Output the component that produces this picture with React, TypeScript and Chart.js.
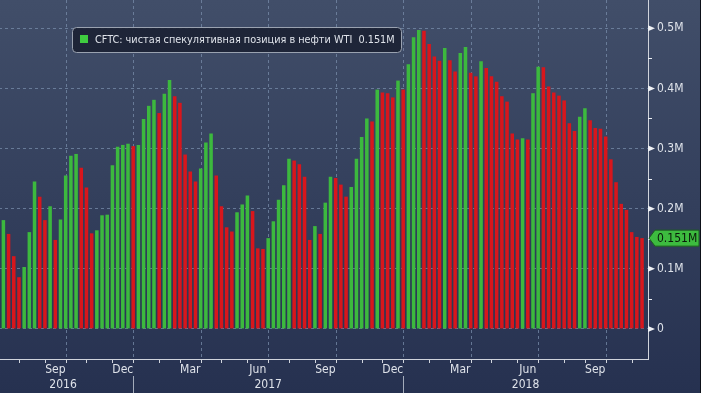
import React, { useEffect, useRef } from "react";
import { Chart, registerables } from "chart.js";

Chart.register(...registerables);

// Weekly CFTC reports (Tuesdays), first report date
const FIRST_REPORT = { year: 2016, month: 6, day: 12 };

// Net speculative position in WTI, thousands of contracts
const netPositionK = [
  181, 158, 121, 86, 103, 161, 245, 220, 181, 204,
  148, 182, 255, 288, 291, 268, 235, 159, 164, 189,
  190, 272, 303, 306, 308, 304, 306, 349, 371, 381,
  359, 391, 414, 387, 376, 290, 262, 245, 267, 310,
  325, 255, 204, 169, 162, 194, 207, 222, 196, 134,
  133, 151, 179, 215, 239, 283, 280, 274, 253, 148,
  171, 158, 210, 253, 251, 240, 220, 236, 283, 319,
  350, 345, 398, 393, 392, 385, 413, 398, 440, 485,
  497, 496, 474, 453, 446, 467, 447, 428, 459, 469,
  426, 420, 445, 434, 420, 411, 387, 378, 325, 315,
  317, 315, 392, 436, 435, 403, 393, 388, 380, 342,
  329, 353, 367, 347, 334, 333, 320, 282, 244, 208,
  198, 161, 153, 151,
];

// G = week-on-week rise, R = fall
const weekDirection =
  "GRRRGGGRRG" + "RGGGGRRRGG" + "GGGGGRGGGG" + "RGGRRRRRGG" + "GRRRRGGGRR" +
  "RGGGGGRRRR" + "GRGGRRRGGG" + "GRGRRRGRGG" + "GRRRRGRRGG" + "RRGRRRRRRR" +
  "GRGGRRRRRR" + "RGGRRRRRRR" + "RRRR";

const monthNames = ["Jan", "Feb", "Mar", "Apr", "May", "Jun", "Jul", "Aug", "Sep", "Oct", "Nov", "Dec"];
const yMajorTicksK = [0, 100, 200, 300, 400, 500];
const yMinorTicksK = [50, 150, 250, 350, 450];
const LEGEND_LABEL = "CFTC: чистая спекулятивная позиция в нефти WTI";

const GREEN = "#3cb93e";
const RED = "#d8161c";
const GRID = "rgba(120,140,170,0.75)";
const AXIS = "#d0d4dc";
const TEXT = "#dfe3ea";
const FONT_FAMILY = "'DejaVu Sans Condensed', 'Liberation Sans', sans-serif";

const weekDates = netPositionK.map(
  (_, i) => new Date(Date.UTC(FIRST_REPORT.year, FIRST_REPORT.month, FIRST_REPORT.day) + i * 7 * 86400000)
);

type MonthStart = { index: number; month: number; year: number };
const monthStarts: MonthStart[] = [];
for (let i = 1; i < weekDates.length; i++) {
  if (weekDates[i].getUTCMonth() !== weekDates[i - 1].getUTCMonth()) {
    monthStarts.push({ index: i, month: weekDates[i].getUTCMonth(), year: weekDates[i].getUTCFullYear() });
  }
}

const fmtM = (v: number) => (v === 0 ? "0" : (v / 1000).toFixed(v % 100 === 0 ? 1 : 3) + "M");

const bgPlugin = {
  id: "bbgBackground",
  beforeDraw(chart: any) {
    const { ctx, width, height } = chart;
    ctx.save();
    const g = ctx.createLinearGradient(0, 0, 0, height);
    g.addColorStop(0, "#414e69");
    g.addColorStop(1, "#263150");
    ctx.fillStyle = g;
    ctx.fillRect(0, 0, width, height);
    ctx.fillStyle = "#0d1119";
    ctx.fillRect(width - 1, 0, 1, height);
    ctx.restore();
  },
};

const axisPlugin = {
  id: "bbgAxis",
  beforeDatasetsDraw(chart: any) {
    const { ctx, chartArea, scales } = chart;
    const x = scales.x;
    ctx.save();
    ctx.strokeStyle = GRID;
    ctx.lineWidth = 1;
    ctx.setLineDash([3, 3]);
    monthStarts
      .filter((m) => m.month % 3 === 0)
      .forEach((m) => {
        const px = Math.round(x.getPixelForValue(m.index)) + 0.5;
        ctx.beginPath();
        ctx.moveTo(px, chartArea.top);
        ctx.lineTo(px, chartArea.bottom);
        ctx.stroke();
      });
    ctx.restore();
  },
  afterDraw(chart: any) {
    const { ctx, chartArea, scales, height } = chart;
    const x = scales.x;
    const y = scales.y;
    const bottom = chartArea.bottom;
    ctx.save();

    // month tick marks
    ctx.strokeStyle = AXIS;
    ctx.lineWidth = 1;
    monthStarts.forEach((m) => {
      const px = Math.round(x.getPixelForValue(m.index)) + 0.5;
      ctx.beginPath();
      ctx.moveTo(px, bottom);
      ctx.lineTo(px, bottom + 4);
      ctx.stroke();
    });

    // quarter month labels
    ctx.fillStyle = TEXT;
    ctx.font = `12px ${FONT_FAMILY}`;
    ctx.textAlign = "center";
    ctx.textBaseline = "middle";
    monthStarts.forEach((m, k) => {
      if (m.month % 3 !== 2) return;
      const next = monthStarts[k + 1];
      const endIdx = next ? next.index : netPositionK.length;
      const px = (x.getPixelForValue(m.index) + x.getPixelForValue(endIdx)) / 2;
      ctx.fillText(monthNames[m.month], px, bottom + 11);
    });

    // years
    const yearStarts = monthStarts.filter((m) => m.month === 0);
    const firstYear = weekDates[0].getUTCFullYear();
    const bounds = [chartArea.left, ...yearStarts.map((m) => x.getPixelForValue(m.index)), chartArea.right];
    ctx.strokeStyle = "#a3abba";
    yearStarts.forEach((m) => {
      const px = Math.round(x.getPixelForValue(m.index)) + 0.5;
      ctx.beginPath();
      ctx.moveTo(px, bottom + 17);
      ctx.lineTo(px, height);
      ctx.stroke();
    });
    for (let k = 0; k < bounds.length - 1; k++) {
      ctx.fillText(String(firstYear + k), (bounds[k] + bounds[k + 1]) / 2, bottom + 26);
    }

    // right axis markers
    const r = chartArea.right;
    ctx.fillStyle = "#eef0f4";
    yMajorTicksK.forEach((v) => {
      const py = y.getPixelForValue(v);
      ctx.beginPath();
      ctx.moveTo(r, py - 3);
      ctx.lineTo(r + 7, py);
      ctx.lineTo(r, py + 3);
      ctx.closePath();
      ctx.fill();
    });
    ctx.strokeStyle = "#eef0f4";
    yMinorTicksK.forEach((v) => {
      const py = Math.round(y.getPixelForValue(v)) + 0.5;
      ctx.beginPath();
      ctx.moveTo(r, py);
      ctx.lineTo(r + 4, py);
      ctx.stroke();
    });

    // last value tag
    const last = netPositionK[netPositionK.length - 1];
    const ty = y.getPixelForValue(last);
    const tx = r + 1;
    ctx.beginPath();
    ctx.moveTo(tx, ty);
    ctx.lineTo(tx + 6, ty - 8);
    ctx.lineTo(tx + 50, ty - 8);
    ctx.lineTo(tx + 50, ty + 8);
    ctx.lineTo(tx + 6, ty + 8);
    ctx.closePath();
    ctx.fillStyle = "#3dbb3f";
    ctx.fill();
    ctx.strokeStyle = "#1d5e1f";
    ctx.stroke();
    ctx.fillStyle = "#0a1a0a";
    ctx.textAlign = "left";
    ctx.font = `12px ${FONT_FAMILY}`;
    ctx.fillText(fmtM(last), tx + 8, ty + 0.5);

    // legend box
    const lx = chartArea.left + 79;
    const ly = 27.5;
    const lw = 329;
    const lh = 25;
    ctx.beginPath();
    ctx.roundRect(lx + 0.5, ly, lw, lh, 4);
    ctx.fillStyle = "rgba(27,34,52,0.92)";
    ctx.fill();
    ctx.strokeStyle = "#9aa2b0";
    ctx.lineWidth = 1;
    ctx.stroke();
    ctx.fillStyle = "#3fcc40";
    ctx.fillRect(lx + 8, ly + 7.5, 8, 8);
    ctx.fillStyle = TEXT;
    ctx.font = `10.8px ${FONT_FAMILY}`;
    ctx.textBaseline = "middle";
    ctx.fillText(`${LEGEND_LABEL}  ${fmtM(last)}`, lx + 23, ly + lh / 2 + 0.5);

    ctx.restore();
  },
};

export default function App() {
  const canvasRef = useRef<HTMLCanvasElement | null>(null);

  useEffect(() => {
    const canvas = canvasRef.current;
    if (!canvas) return;
    const chart = new Chart(canvas, {
      type: "bar",
      data: {
        datasets: [
          {
            data: netPositionK.map((v, i) => ({ x: i, y: v })),
            backgroundColor: weekDirection.split("").map((c) => (c === "G" ? GREEN : RED)),
            borderWidth: 0,
            barPercentage: 0.68,
            categoryPercentage: 1,
          },
        ],
      },
      options: {
        animation: false,
        responsive: false,
        maintainAspectRatio: false,
        devicePixelRatio: 1,
        layout: { padding: 0 },
        plugins: { legend: { display: false }, tooltip: { enabled: false } },
        scales: {
          x: {
            type: "linear",
            min: -2,
            max: 124.15,
            offset: false,
            ticks: { display: false },
            grid: { display: false },
            border: { display: true, color: AXIS, width: 1 },
            afterFit: (s: any) => {
              s.height = 34;
              s.paddingLeft = 0;
              s.paddingRight = 0;
            },
          },
          y: {
            position: "right",
            min: -50,
            max: 547,
            afterBuildTicks: (s: any) => {
              s.ticks = yMajorTicksK.map((v) => ({ value: v }));
            },
            ticks: {
              callback: (v: any) => fmtM(Number(v)),
              color: TEXT,
              font: { family: FONT_FAMILY, size: 12 },
              padding: 9,
            },
            grid: { color: GRID, drawTicks: false, lineWidth: 1 },
            border: { display: true, color: AXIS, width: 1, dash: [3, 3] },
            afterFit: (s: any) => {
              s.width = 53;
              s.paddingTop = 0;
              s.paddingBottom = 0;
            },
          },
        },
      } as any,
      plugins: [bgPlugin, axisPlugin],
    });
    return () => chart.destroy();
  }, []);

  return (
    <div style={{ position: "fixed", left: -7, top: 0, width: 708, height: 393, overflow: "hidden" }}>
      <canvas ref={canvasRef} width={708} height={393} style={{ width: 708, height: 393, display: "block" }} />
    </div>
  );
}
